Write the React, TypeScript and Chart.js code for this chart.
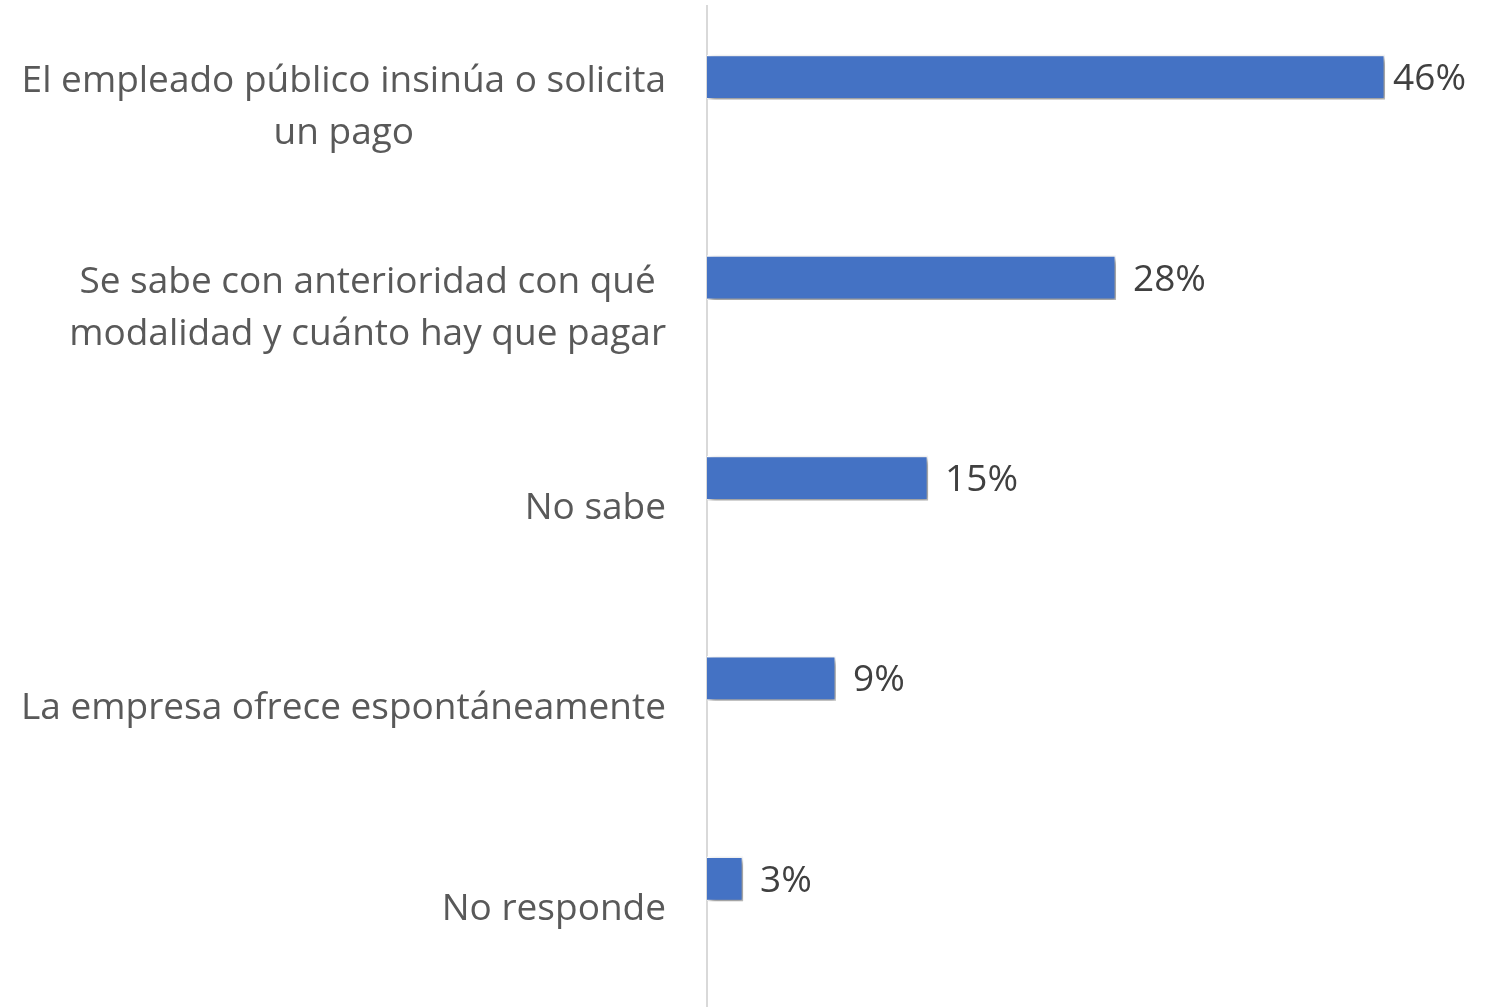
import React, { useEffect, useRef } from "react";
import { Chart, registerables } from "chart.js";

Chart.register(...registerables);

const categories: string[][] = [
  ["El empleado público insinúa o solicita", "un pago"],
  ["Se sabe con anterioridad con qué", "modalidad y cuánto hay que pagar"],
  ["No sabe"],
  ["La empresa ofrece espontáneamente"],
  ["No responde"],
];
const values = [46, 27.75, 15, 8.75, 2.45];
const valueLabels = ["46%", "28%", "15%", "9%", "3%"];
const placeholder = [null, null, null, null, null];

const FONT = '"Open Sans", "DejaVu Sans", sans-serif';

const customPlugin = {
  id: "custom",
  beforeDatasetsDraw(chart: any) {
    const { ctx, chartArea } = chart;
    ctx.save();
    ctx.strokeStyle = "#d9d9d9";
    ctx.lineWidth = 2;
    ctx.beginPath();
    ctx.moveTo(chartArea.left, chartArea.top);
    ctx.lineTo(chartArea.left, chartArea.bottom);
    ctx.stroke();
    ctx.restore();
  },
  beforeDatasetDraw(chart: any) {
    const { ctx } = chart;
    ctx.save();
    ctx.shadowColor = "rgba(0,0,0,0.45)";
    ctx.shadowBlur = 6;
    ctx.shadowOffsetX = 3;
    ctx.shadowOffsetY = 3;
  },
  afterDatasetDraw(chart: any) {
    chart.ctx.restore();
  },
  afterDatasetsDraw(chart: any) {
    const { ctx, chartArea } = chart;
    const yScale = chart.scales.y;
    // category labels
    ctx.save();
    ctx.font = `37px ${FONT}`;
    ctx.fillStyle = "#595959";
    ctx.textBaseline = "middle";
    ctx.textAlign = "center";
    const rightEdge = chartArea.left - 41;
    const lineH = 52;
    categories.forEach((lines, i) => {
      const cy = yScale.getPixelForValue(i) + 2.5;
      const maxW = Math.max(...lines.map((l) => ctx.measureText(l).width));
      const cx = rightEdge - maxW / 2;
      const startY = cy - ((lines.length - 1) * lineH) / 2;
      lines.forEach((l, j) => ctx.fillText(l, cx, startY + j * lineH));
    });
    ctx.restore();
    // value labels
    ctx.save();
    ctx.font = `37px ${FONT}`;
    ctx.fillStyle = "#404040";
    ctx.textBaseline = "middle";
    ctx.textAlign = "left";
    const meta = chart.getDatasetMeta(0);
    meta.data.forEach((bar: any, i: number) => {
      const t = valueLabels[i];
      const w = ctx.measureText(t).width;
      let x = bar.x + 17;
      if (x + w > chart.width - 28) x = chart.width - 28 - w;
      ctx.fillText(t, x, bar.y + 2.5);
    });
    ctx.restore();
  },
};

export default function App() {
  const ref = useRef<HTMLCanvasElement>(null);
  useEffect(() => {
    document.body.style.margin = "0";
    const chart = new Chart(ref.current!, {
      type: "bar",
      data: {
        labels: categories.map((c) => c.join(" ")),
        datasets: [
          {
            data: values,
            backgroundColor: "#4472C4",
            borderColor: "#ffffff",
            borderWidth: 1.5,
            categoryPercentage: 0.5586,
            barPercentage: 0.8,
          },
          {
            data: placeholder as any,
            backgroundColor: "#ED7D31",
            categoryPercentage: 0.5586,
            barPercentage: 0.8,
          },
        ],
      },
      options: {
        indexAxis: "y",
        responsive: false,
        animation: false,
        layout: { padding: { left: 707, right: 50, top: 5, bottom: 0 } },
        scales: {
          x: { display: false, min: 0, max: 50 },
          y: { display: false },
        },
        plugins: { legend: { display: false }, tooltip: { enabled: false } },
      },
      plugins: [customPlugin],
    });
    return () => chart.destroy();
  }, []);
  return (
    <div style={{ position: "fixed", left: 0, top: 0, width: 1494, height: 1007, background: "#fff" }}>
      <canvas ref={ref} width={1494} height={1007} style={{ width: 1494, height: 1007 }} />
    </div>
  );
}
